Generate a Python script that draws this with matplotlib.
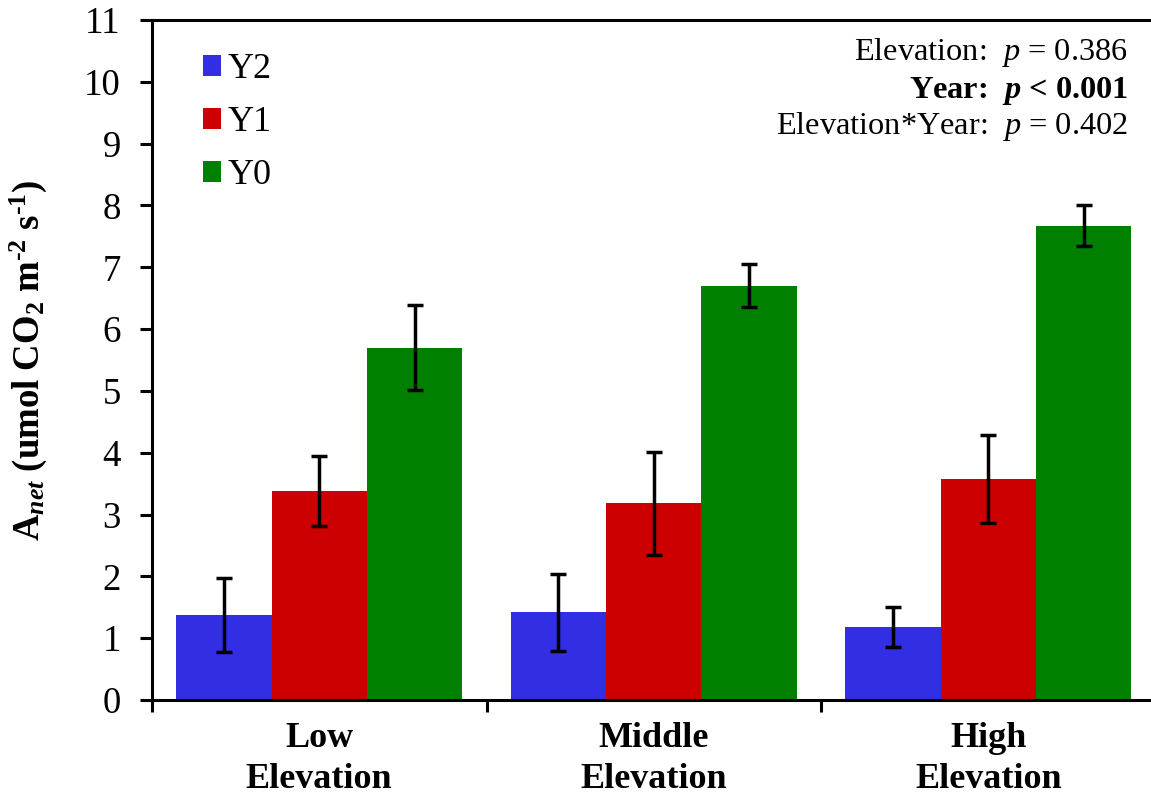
import numpy as np
import matplotlib.pyplot as plt

plt.rcParams['font.family'] = 'Liberation Serif'
plt.rcParams['mathtext.fontset'] = 'custom'
plt.rcParams['mathtext.rm'] = 'Liberation Serif'
plt.rcParams['mathtext.it'] = 'Liberation Serif:italic'
plt.rcParams['mathtext.bf'] = 'Liberation Serif:bold'
plt.rcParams['mathtext.bfit'] = 'Liberation Serif:italic:bold'

# data
groups = ['Low\nElevation', 'Middle\nElevation', 'High\nElevation']
years = ['Y2', 'Y1', 'Y0']
colors = ['#312ee3', '#cc0000', '#007f00']
y2 = [1.37, 1.42, 1.18]
y2_err = [0.60, 0.62, 0.32]
y1 = [3.38, 3.18, 3.57]
y1_err = [0.56, 0.83, 0.71]
y0 = [5.70, 6.70, 7.67]
y0_err = [0.69, 0.35, 0.33]
stats = ['Elevation:  $p$ = 0.386',
         r'Year:  $\mathbfit{p}$ < 0.001',
         'Elevation*Year:  $p$ = 0.402']

fig = plt.figure(figsize=(11.51, 7.99), dpi=100)
ax = fig.add_axes([152 / 1151, 99 / 799, 1003.5 / 1151, 680 / 799])

x = np.arange(len(groups))
w = 0.2855
for i, (vals, errs) in enumerate([(y2, y2_err), (y1, y1_err), (y0, y0_err)]):
    ax.bar(x + (i - 1) * w, vals, w, color=colors[i], label=years[i],
           linewidth=0, zorder=2)
    ax.errorbar(x + (i - 1) * w, vals, yerr=errs, fmt='none', ecolor='black',
                elinewidth=2.5, capsize=6, capthick=2.5, zorder=3)

ax.set_xlim(-0.5, 2.5)
ax.set_ylim(0, 11)
ax.set_yticks(range(0, 12))
ax.tick_params(axis='y', labelsize=26.5, direction='out', length=8.5, width=2.2, pad=14)
ax.set_xticks([-0.5, 0.5, 1.5, 2.5])
ax.set_xticklabels([])
ax.tick_params(axis='x', which='major', direction='out', length=8.5, width=2.2)
ax.set_xticks(x, minor=True)
ax.set_xticklabels(groups, minor=True, fontsize=26, fontweight='bold', linespacing=1.3)
ax.tick_params(axis='x', which='minor', length=0, pad=16)

for s in ['left', 'top', 'bottom']:
    ax.spines[s].set_linewidth(2.2)
ax.spines['right'].set_visible(False)

ax.set_ylabel('A$_{\\mathbfit{net}}$ (umol CO$_{\\mathbf{2}}$ m$^{\\mathbf{\u20102}}$ s$^{\\mathbf{\u20101}}$)',
              fontsize=26.5, fontweight='bold', labelpad=25)

ax.legend(loc='upper left', bbox_to_anchor=(0.036, 0.972), frameon=False,
          fontsize=26, handlelength=0.5, handleheight=0.5, handletextpad=0.2,
          labelspacing=0.55, borderaxespad=0)

ys = [(799 - 60) / 799, (799 - 98) / 799, (799 - 134) / 799]
for k, (t, yy) in enumerate(zip(stats, ys)):
    fig.text(1128 / 1151, yy, t, ha='right', va='baseline', fontsize=23.3,
             fontweight='bold' if k == 1 else 'normal')

fig.savefig('out.png', dpi=100)
